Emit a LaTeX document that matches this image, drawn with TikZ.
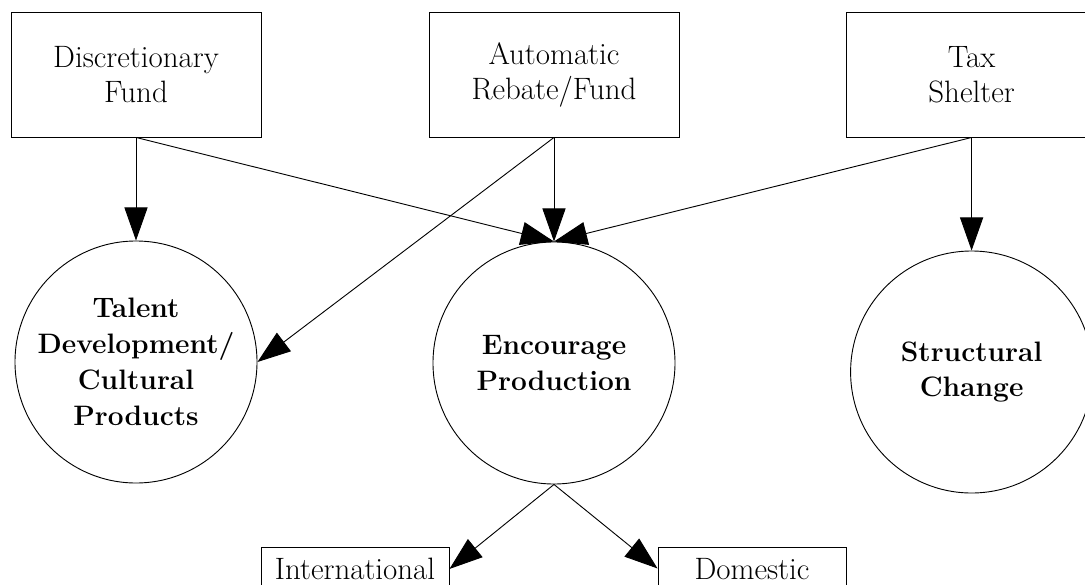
\documentclass[tikz,border=0pt]{standalone}
\usepackage{tikz}
\usetikzlibrary{arrows.meta}

\begin{document}
\begin{tikzpicture}[line width=0.65pt,
    fund/.style={draw, minimum width=6.25cm, minimum height=3.125cm, align=center,
        font=\fontsize{22}{25}\selectfont},
    goal/.style={draw, circle, minimum size=6.05cm, inner sep=0pt, align=center,
        font=\fontsize{20}{25.5}\selectfont\bfseries},
    market/.style={draw, minimum width=4.7cm, inner sep=0pt, text height=0.8cm, text depth=4.1cm,
        font=\fontsize{22}{25}\selectfont},
    flow/.style={-{Triangle[length=0.83cm, width=0.58cm]}}]
\useasboundingbox (0,0) rectangle (27.125,-14.6);

\node[fund] (disc) at (3.4,-1.8625) {Discretionary\\Fund};
\node[fund] (auto) at (13.85,-1.8625) {Automatic\\Rebate/Fund};
\node[fund] (tax) at (24.29,-1.8625) {Tax\\Shelter};

\node[goal] (talent) at (3.4,-9.05) {Talent\\Development/\\Cultural\\Products};
\node[goal] (prod) at (13.85,-9.075) {Encourage\\Production};
\node[goal] (struct) at (24.29,-9.3) {Structural\\Change};

\node[market] (intl) at (8.875,-16.125) {International};
\node[market] (dom) at (18.8,-16.125) {Domestic};

\draw[flow] (disc.south) -- (talent.north);
\draw[flow] (disc.south) -- (prod.north);
\draw[flow] (auto.south) -- (talent.east);
\draw[flow] (auto.south) -- (prod.north);
\draw[flow] (tax.south) -- (prod.north);
\draw[flow] (tax.south) -- (struct.north);
\draw[flow] (prod.south) -- (intl);
\draw[flow] (prod.south) -- (dom);

\end{tikzpicture}
\end{document}
